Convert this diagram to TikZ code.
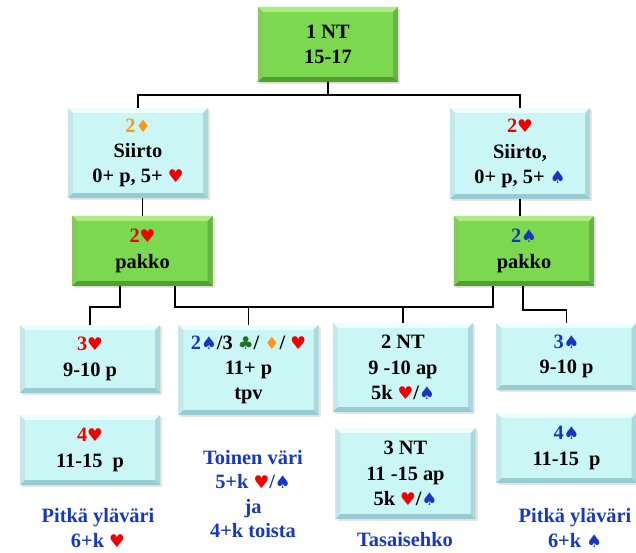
\documentclass[tikz,border=0pt]{standalone}
\usepackage{fontspec}
\setmainfont{Liberation Serif}
\newfontfamily\suitfont{DejaVu Sans}
\usetikzlibrary{shadows}

\definecolor{syaani}{RGB}{203,246,246}
\definecolor{syaanivalo}{RGB}{238,253,253}
\definecolor{syaanitumma}{RGB}{150,204,210}
\definecolor{vihrea}{RGB}{124,216,78}
\definecolor{vihreavalo}{RGB}{172,236,130}
\definecolor{vihreatumma}{RGB}{82,160,48}
\definecolor{punainen}{RGB}{240,0,0}
\definecolor{sininen}{RGB}{22,55,195}
\definecolor{oranssi}{RGB}{255,150,20}
\definecolor{risti}{RGB}{30,115,40}

\newcommand{\hertta}{{\color{punainen}\suitfont\fontsize{12.5}{18}\selectfont ♥}}
\newcommand{\pata}{{\color{sininen}\suitfont\fontsize{12.5}{18}\selectfont ♠}}
\newcommand{\ruutu}{{\color{oranssi}\suitfont\fontsize{12}{18}\selectfont ♦}}
\newcommand{\ristimerkki}{{\color{risti}\suitfont\fontsize{12.5}{18}\selectfont ♣}}

\tikzset{
  viiste/.style 2 args={path picture={
    \path (path picture bounding box.north west) coordinate (v1)
          (path picture bounding box.north east) coordinate (v2)
          (path picture bounding box.south east) coordinate (v3)
          (path picture bounding box.south west) coordinate (v4);
    \path ([shift={(3.5pt,-3.5pt)}]v1) coordinate (w1)
          ([shift={(-3.5pt,-3.5pt)}]v2) coordinate (w2)
          ([shift={(-3.5pt,3.5pt)}]v3) coordinate (w3)
          ([shift={(3.5pt,3.5pt)}]v4) coordinate (w4);
    \fill[#1] (v1) -- (v2) -- (w2) -- (w1) -- cycle;
    \fill[#1!55!#2] (v1) -- (w1) -- (w4) -- (v4) -- cycle;
    \fill[#2!75!#1] (v2) -- (v3) -- (w3) -- (w2) -- cycle;
    \fill[#2] (v3) -- (v4) -- (w4) -- (w3) -- cycle;
  }}
}

\begin{document}
\begin{tikzpicture}[x=0.025cm,y=-0.025cm]
\tikzstyle{laatikko}=[rectangle, minimum width=3.5cm, inner sep=0pt,
align=center, font=\fontsize{14.5}{18}\selectfont\bfseries,
drop shadow={opacity=0.2, shadow xshift=1.5pt, shadow yshift=-1.5pt}]
\tikzstyle{sin}=[laatikko, fill=syaani, viiste={syaanivalo}{syaanitumma}]
\tikzstyle{vih}=[laatikko, fill=vihrea, viiste={vihreavalo}{vihreatumma}]
\tikzstyle{selite}=[align=center, text=sininen,
font=\fontsize{14.5}{17.5}\selectfont\bfseries]
\tikzstyle{yhteys}=[line width=1.3pt]

\useasboundingbox (0,0) rectangle (636,552);

% tarjoukset
\node[vih, minimum height=1.875cm] at (328,44.5) (n1nt) {1 NT\\15-17};
\node[sin, minimum height=2.25cm] at (138,153) (n2ru)
  {{\color{oranssi}2\ruutu}\\Siirto\\0+ p, 5+ \hertta};
\node[sin, minimum height=2.275cm] at (520,153.5) (n2he)
  {{\color{punainen}2\hertta}\\Siirto,\\0+ p, 5+ \pata};
\node[vih, minimum height=1.75cm] at (142.5,251) (pakkoH)
  {{\color{punainen}2\hertta}\\pakko};
\node[vih, minimum height=1.75cm] at (524,251) (pakkoP)
  {{\color{sininen}2\pata}\\pakko};

\node[sin, minimum height=1.7cm] at (90,359) (n3he)
  {{\color{punainen}3\hertta}\\9-10 p};
\node[sin, minimum height=2.25cm] at (248.5,370) (nvari)
  {{\color{sininen}2\pata}/3 \ristimerkki/ \ruutu/ \hertta\\11+ p\\tpv};
\node[sin, minimum height=2.225cm] at (403,367.5) (n2nt)
  {2 NT\\9 -10 ap\\5k \hertta/\pata};
\node[sin, minimum height=1.675cm] at (566.5,356.5) (n3pa)
  {{\color{sininen}3\pata}\\9-10 p};
\node[sin, minimum height=1.75cm] at (90,450) (n4he)
  {{\color{punainen}4\hertta}\\11-15\enspace p};
\node[sin, minimum height=2.275cm] at (405.5,473.5) (n3nt)
  {3 NT\\11 -15 ap\\5k \hertta/\pata};
\node[sin, minimum height=1.75cm] at (566.5,448) (n4pa)
  {{\color{sininen}4\pata}\\11-15\enspace p};

% selitteet
\node[selite] at (98,528) (tpitkaH) {Pitkä yläväri\\6+k \hertta};
\node[selite] at (253,494) (ttoinen) {Toinen väri\\5+k \hertta/\pata\\ja\\4+k toista};
\node[selite] at (405,540) (ttasa) {Tasaisehko};
\node[selite] at (575,528) (tpitkaP) {Pitkä yläväri\\6+k \pata};

% kiskot
\coordinate (k1) at (120,307);
\coordinate (k2) at (175,307);
\coordinate (k3) at (493,307);
\coordinate (k4) at (523,310);

\draw[yhteys] (n1nt.south) -- ++(0,13) -| (n2ru.north);
\draw[yhteys] (n1nt.south) -- ++(0,13) -| (n2he.north);
\draw[yhteys] (pakkoH.north |- n2ru.south) -- (pakkoH.north);
\draw[yhteys] (n2he.south) -- (n2he.south |- pakkoP.north);
\draw[yhteys] (pakkoH.south -| k1) -- (k1) -| (n3he.north);
\draw[yhteys] (pakkoH.south -| k2) -- (k2) -- (k3) -- (pakkoP.south -| k3);
\draw[yhteys] (k2 -| nvari.north) -- (nvari.north);
\draw[yhteys] (k2 -| n2nt.north) -- (n2nt.north);
\draw[yhteys] (pakkoP.south -| k4) -- (k4) -| (n3pa.north);

\end{tikzpicture}
\end{document}
